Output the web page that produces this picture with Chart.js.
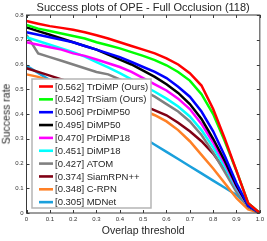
<!DOCTYPE html>
<html>
<head>
<meta charset="utf-8">
<script src="https://cdn.jsdelivr.net/npm/chart.js@4.4.0/dist/chart.umd.min.js"></script>
<style>
  html, body { margin: 0; padding: 0; background: #fff; overflow: hidden; }
  #wrap { position: relative; width: 267px; height: 241px; }
  #chart { position: absolute; left: 0; top: 0; }
  #ytitle {
    position: absolute; left: 5.5px; top: 114px;
    transform: translate(-50%, -50%) rotate(-90deg);
    font: 10.5px "Liberation Sans", Arial, sans-serif; color: #262626;
    white-space: nowrap; line-height: 1;
  }
</style>
</head>
<body>
<div id="wrap"><canvas id="chart" width="267" height="241"></canvas><div id="ytitle">Success rate</div></div>
<script>
/* Success plot - Full Occlusion */

const thresholds = [0, 0.05, 0.1, 0.15, 0.2, 0.25, 0.3, 0.35, 0.4, 0.45, 0.5,
                    0.55, 0.6, 0.65, 0.7, 0.75, 0.8, 0.85, 0.9, 0.95, 1];

const trackerNames = ['TrDiMP (Ours)', 'TrSiam (Ours)', 'PrDiMP50', 'DiMP50', 'PrDiMP18',
                      'DiMP18', 'ATOM', 'SiamRPN++', 'C-RPN', 'MDNet'];
const aucScores = [0.562, 0.542, 0.506, 0.495, 0.470, 0.451, 0.427, 0.374, 0.348, 0.305];
const lineColors = ['#ff0000', '#00ff00', '#0000ff', '#000000', '#ff00ff',
                    '#00ffff', '#808080', '#800014', '#ff8026', '#1aa0dc'];

const trdimp   = [0.776, 0.765, 0.755, 0.748, 0.740, 0.730, 0.718, 0.705, 0.690, 0.675, 0.660,
                  0.645, 0.625, 0.600, 0.565, 0.515, 0.420, 0.300, 0.170, 0.040, 0];
const trsiam   = [0.760, 0.745, 0.735, 0.725, 0.715, 0.705, 0.690, 0.678, 0.665, 0.650, 0.635,
                  0.618, 0.597, 0.570, 0.535, 0.480, 0.400, 0.290, 0.170, 0.040, 0];
const prdimp50 = [0.730, 0.720, 0.710, 0.700, 0.690, 0.675, 0.660, 0.645, 0.630, 0.610, 0.590,
                  0.570, 0.545, 0.510, 0.470, 0.410, 0.330, 0.230, 0.120, 0.030, 0];
const dimp50   = [0.750, 0.735, 0.720, 0.705, 0.690, 0.675, 0.660, 0.640, 0.620, 0.600, 0.575,
                  0.550, 0.520, 0.485, 0.440, 0.380, 0.300, 0.210, 0.110, 0.030, 0];
const prdimp18 = [0.690, 0.680, 0.670, 0.660, 0.645, 0.635, 0.620, 0.605, 0.590, 0.570, 0.545,
                  0.520, 0.495, 0.462, 0.420, 0.360, 0.285, 0.200, 0.105, 0.030, 0];
const dimp18   = [0.710, 0.695, 0.680, 0.665, 0.650, 0.632, 0.610, 0.588, 0.565, 0.540, 0.515,
                  0.490, 0.462, 0.430, 0.390, 0.335, 0.265, 0.185, 0.100, 0.030, 0];
const atom     = [0.720, 0.645, 0.630, 0.615, 0.600, 0.585, 0.570, 0.560, 0.540, 0.520, 0.495,
                  0.470, 0.440, 0.410, 0.370, 0.315, 0.245, 0.165, 0.085, 0.025, 0];
const siamrpn  = [0.585, 0.570, 0.555, 0.540, 0.525, 0.510, 0.495, 0.480, 0.465, 0.450, 0.435,
                  0.415, 0.395, 0.365, 0.330, 0.290, 0.240, 0.175, 0.095, 0.025, 0];
const crpn     = [0.560, 0.550, 0.535, 0.520, 0.505, 0.490, 0.475, 0.460, 0.445, 0.430, 0.415,
                  0.395, 0.370, 0.335, 0.290, 0.235, 0.180, 0.120, 0.060, 0.015, 0];
const mdnet    = [0.595, 0.566, 0.537, 0.508, 0.479, 0.450, 0.421, 0.392, 0.363, 0.334, 0.305,
                  0.276, 0.247, 0.218, 0.189, 0.160, 0.131, 0.102, 0.073, 0.030, 0];

const seriesValues = [trdimp, trsiam, prdimp50, dimp50, prdimp18, dimp18, atom, siamrpn, crpn, mdnet];

const textColor = '#262626';
const fontFamily = '"Liberation Sans", Arial, sans-serif';

// frame, inward ticks, title and in-axes legend (MATLAB look)
const matlabAxes = {
    id: 'matlabAxes',
    afterDatasetsDraw(chart) {
        const { ctx, chartArea: a, scales } = chart;
        ctx.save();
        ctx.strokeStyle = '#3a3a3a';
        ctx.lineWidth = 1;
        ctx.strokeRect(a.left, a.top, a.right - a.left, a.bottom - a.top);
        ctx.beginPath();
        scales.x.ticks.forEach(t => {
            const px = Math.round(scales.x.getPixelForValue(t.value)) + 0.5;
            ctx.moveTo(px, a.bottom); ctx.lineTo(px, a.bottom - 3);
            ctx.moveTo(px, a.top); ctx.lineTo(px, a.top + 3);
        });
        scales.y.ticks.forEach(t => {
            const py = Math.round(scales.y.getPixelForValue(t.value)) + 0.5;
            ctx.moveTo(a.left, py); ctx.lineTo(a.left + 3, py);
            ctx.moveTo(a.right, py); ctx.lineTo(a.right - 3, py);
        });
        ctx.stroke();

        // title
        ctx.fillStyle = textColor;
        ctx.font = '11px ' + fontFamily;
        ctx.textAlign = 'center';
        ctx.textBaseline = 'middle';
        ctx.fillText('Success plots of OPE - Full Occlusion (118)', (a.left + a.right) / 2, 7.5);

        // legend box
        const bx = 32, by = 79, bw = 119, bh = 129;
        ctx.fillStyle = '#fff';
        ctx.fillRect(bx, by, bw, bh);
        ctx.strokeStyle = '#b5b5b5';
        ctx.lineWidth = 1.5;
        ctx.strokeRect(bx, by, bw, bh);
        ctx.font = '9.5px ' + fontFamily;
        ctx.textAlign = 'left';
        chart.data.datasets.forEach((ds, i) => {
            const y = 86.5 + i * 12.85;
            ctx.strokeStyle = ds.borderColor;
            ctx.lineWidth = 2.6;
            ctx.beginPath();
            ctx.moveTo(39, y); ctx.lineTo(53, y);
            ctx.stroke();
            ctx.fillStyle = textColor;
            ctx.fillText(ds.label, 55, y + 0.5);
        });
        ctx.restore();
    }
};

new Chart(document.getElementById('chart'), {
    type: 'line',
    data: {
        datasets: trackerNames.map((name, i) => ({
            label: '[' + aucScores[i].toFixed(3) + '] ' + name,
            data: thresholds.map((t, j) => ({ x: t, y: seriesValues[i][j] })),
            borderColor: lineColors[i],
            borderWidth: 2.5,
            pointRadius: 0,
            tension: 0,
            fill: false
        }))
    },
    options: {
        responsive: false,
        animation: false,
        devicePixelRatio: 1,
        layout: { padding: { left: 0, right: 7, top: 15, bottom: 0 } },
        plugins: {
            legend: { display: false },
            title: { display: false },
            tooltip: { enabled: false }
        },
        scales: {
            x: {
                type: 'linear',
                min: 0,
                max: 1,
                grid: { display: false, drawTicks: false },
                border: { display: false },
                ticks: {
                    stepSize: 0.1,
                    autoSkip: false,
                    maxRotation: 0,
                    padding: 3,
                    color: '#333',
                    font: { size: 6, family: fontFamily }
                },
                title: {
                    display: true,
                    text: 'Overlap threshold',
                    color: textColor,
                    font: { size: 10.5, family: fontFamily, lineHeight: 1.2 },
                    padding: { top: 0, bottom: 4 }
                },
                afterFit: s => { s.height = 28; }
            },
            y: {
                type: 'linear',
                position: 'left',
                min: 0,
                max: 0.8,
                grid: { display: false, drawTicks: false },
                border: { display: false },
                ticks: {
                    stepSize: 0.1,
                    autoSkip: false,
                    padding: 3,
                    color: '#333',
                    font: { size: 6, family: fontFamily }
                },
                afterFit: s => { s.width = 26.5; }
            }
        }
    },
    plugins: [matlabAxes]
});
</script>
</body>
</html>
